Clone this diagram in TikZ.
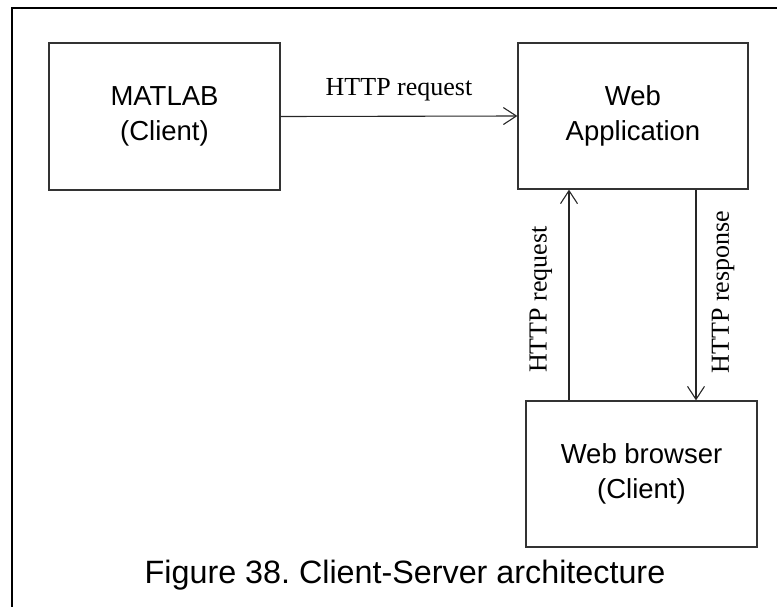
\documentclass[tikz,border=0pt]{standalone}
\usepackage{fontspec}
\setmainfont{Liberation Serif}
\newfontfamily\arialf{Liberation Sans}
\usetikzlibrary{arrows.meta}
\frenchspacing
\begin{document}
\begin{tikzpicture}[x=1pt,y=-1pt,
  boxnode/.style={draw=black!80, line width=1.3pt, minimum width=231pt, minimum height=147pt,
    align=center, font=\arialf\fontsize{27.5}{35}\selectfont, inner sep=0pt},
  conn/.style={draw=black!85, line width=1.1pt, -{Straight Barb[length=13pt,width=17pt,line width=1.1pt]}},
  lbl/.style={font=\fontsize{26}{30}\selectfont, inner sep=0pt}]
\useasboundingbox (0,0) rectangle (777,606);
\draw[line width=2pt] (12,610) -- (12,8) -- (780,8);
\node[boxnode] (matlab) at (164.5,116.5) {MATLAB\\(Client)};
\node[boxnode, minimum width=230pt, minimum height=146pt] (webapp) at (633,116) {Web\\Application};
\node[boxnode, minimum height=146pt] (browser) at (641.5,474) {Web browser\\(Client)};
\coordinate (upx) at (569,0);
\coordinate (dnx) at (696,0);
\draw[conn] (matlab.east) -- node[lbl, yshift=26pt] {HTTP request} (webapp.west);
\draw[conn] (browser.north -| upx) -- node[lbl, rotate=90, xshift=-4.5pt, yshift=28pt] {HTTP request} (webapp.south -| upx);
\draw[conn] (webapp.south -| dnx) -- node[lbl, rotate=90, xshift=3pt, yshift=-27pt] {HTTP response} (browser.north -| dnx);
\node[font=\arialf\fontsize{32.3}{36}\selectfont, inner sep=0pt] (cap) at (405,575) {Figure 38. Client-Server architecture};
\end{tikzpicture}
\end{document}
